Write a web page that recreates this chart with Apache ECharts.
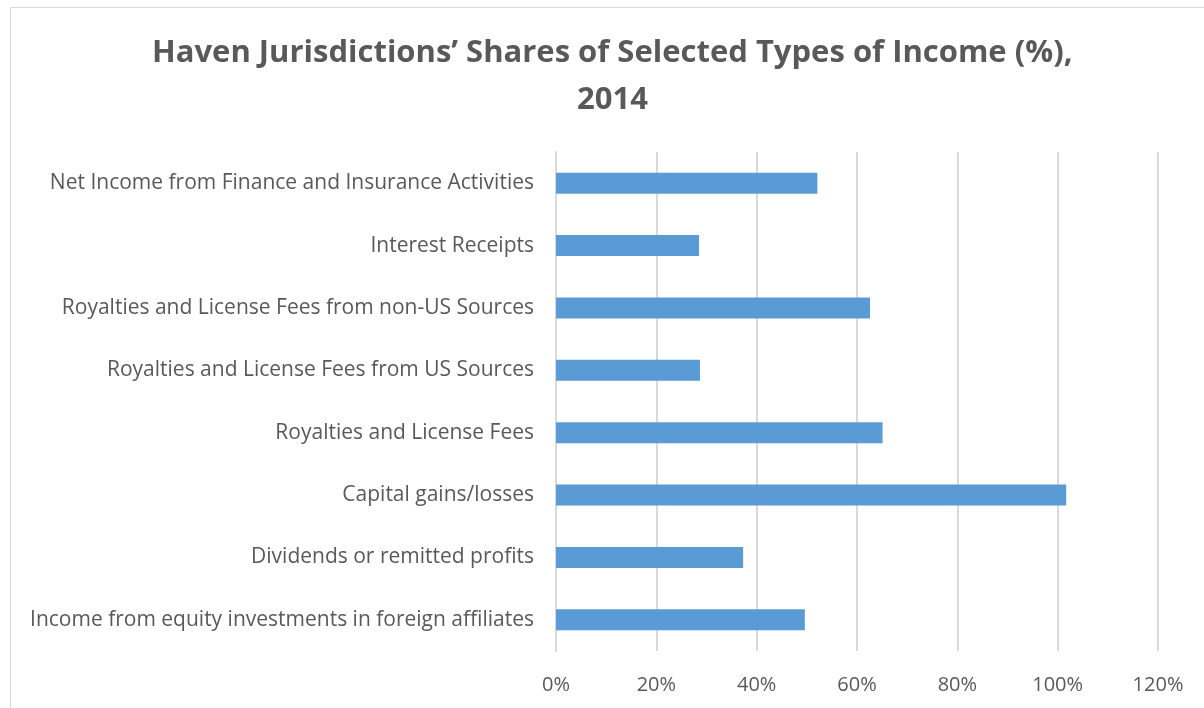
<!DOCTYPE html>
<html>
<head>
<meta charset="utf-8">
<script src="https://cdn.jsdelivr.net/npm/echarts@6/dist/echarts.min.js"></script>
<style>
  html, body { margin: 0; padding: 0; background: #fff; }
  #chart { width: 1204px; height: 708px; }
</style>
</head>
<body>
<div id="chart"></div>
<script>
// Categories listed bottom to top (ECharts draws category y axis upward)
const categories = [
    'Income from equity investments in foreign affiliates',
    'Dividends or remitted profits',
    'Capital gains/losses',
    'Royalties and License Fees',
    'Royalties and License Fees from US Sources',
    'Royalties and License Fees from non-US Sources',
    'Interest Receipts',
    'Net Income from Finance and Insurance Activities'
];
const shares = [49.6, 37.3, 101.7, 65.1, 28.7, 62.6, 28.5, 52.1];

const titleLines = ['Haven Jurisdictions\u2019 Shares of Selected Types of Income (%),', '2014'];
const fontFamily = '"Open Sans", "Noto Sans", sans-serif';
const textColor = '#595959';

const chart = echarts.init(document.getElementById('chart'));

const titleStyle = {
    fontFamily: fontFamily,
    fontSize: 31,
    fontWeight: 'bold',
    color: textColor,
    lineHeight: 47
};

chart.setOption({
    animation: false,
    backgroundColor: '#fff',
    title: [
        { text: titleLines[0], left: 147, top: 25, textStyle: titleStyle },
        { text: titleLines[1], left: 572, top: 72, textStyle: titleStyle }
    ],
    graphic: [{
        type: 'rect',
        shape: { x: 10.5, y: 7.5, width: 1300, height: 800 },
        style: { fill: 'none', stroke: '#d9d9d9', lineWidth: 1 },
        silent: true
    }],
    grid: {
        left: 556,
        right: 46,
        top: 152,
        bottom: 57
    },
    xAxis: {
        type: 'value',
        min: 0,
        max: 120,
        interval: 20,
        axisLine: { show: false },
        axisTick: { show: false },
        splitLine: { lineStyle: { color: '#d9d9d9', width: 2 } },
        axisLabel: {
            formatter: '{value}%',
            margin: 24,
            fontFamily: fontFamily,
            fontSize: 20,
            color: textColor
        }
    },
    yAxis: {
        type: 'category',
        data: categories,
        axisLine: { show: true, lineStyle: { color: '#d9d9d9', width: 2 } },
        axisTick: { show: false },
        axisLabel: {
            margin: 22,
            fontFamily: fontFamily,
            fontSize: 21,
            color: textColor
        }
    },
    series: [{
        type: 'bar',
        data: shares,
        barWidth: 21,
        itemStyle: { color: '#5b9bd5' }
    }]
});
</script>
</body>
</html>
